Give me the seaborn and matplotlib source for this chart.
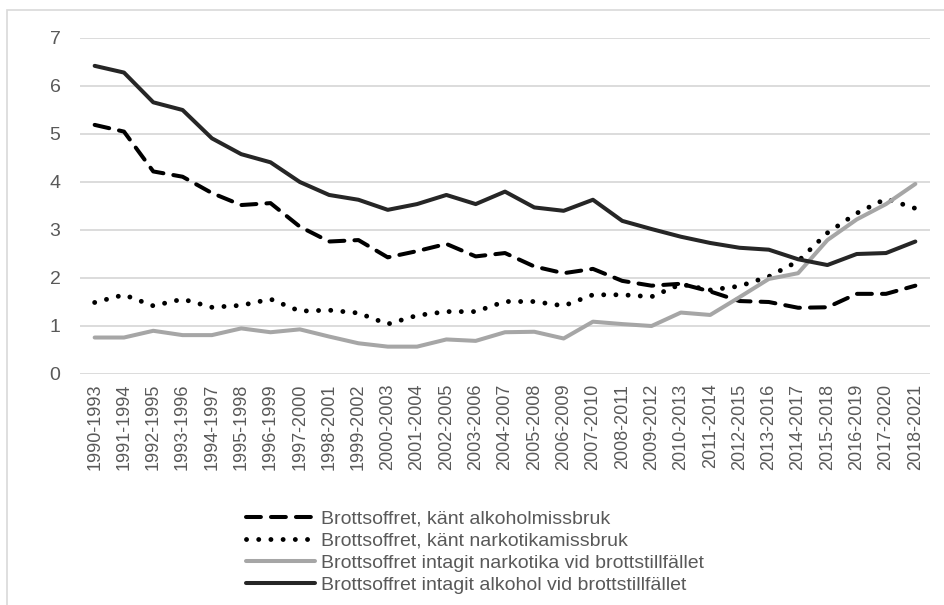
import numpy as np
import matplotlib
matplotlib.use("Agg")
import matplotlib.pyplot as plt
import seaborn as sns
import pandas as pd
from matplotlib.patches import Rectangle

# ==========================================
# Data
# ==========================================
periods = [f"{y}-{y + 3}" for y in range(1990, 2019)]

alkohol_missbruk = [5.19, 5.05, 4.22, 4.11, 3.77, 3.52, 3.56, 3.07, 2.76, 2.79,
                    2.43, 2.56, 2.71, 2.45, 2.52, 2.24, 2.10, 2.19, 1.94, 1.84,
                    1.88, 1.72, 1.52, 1.50, 1.38, 1.39, 1.67, 1.67, 1.84]
narkotika_missbruk = [1.49, 1.65, 1.42, 1.56, 1.39, 1.43, 1.56, 1.31, 1.33, 1.27,
                      1.04, 1.22, 1.30, 1.30, 1.51, 1.51, 1.42, 1.65, 1.65, 1.61,
                      1.87, 1.75, 1.83, 2.03, 2.35, 2.94, 3.35, 3.65, 3.45]
narkotika_intagit = [0.76, 0.76, 0.90, 0.81, 0.81, 0.95, 0.87, 0.93, 0.78, 0.64,
                     0.57, 0.57, 0.72, 0.69, 0.87, 0.88, 0.74, 1.09, 1.04, 1.00,
                     1.28, 1.23, 1.60, 1.98, 2.10, 2.79, 3.22, 3.54, 3.96]
alkohol_intagit = [6.42, 6.28, 5.66, 5.50, 4.91, 4.58, 4.41, 4.00, 3.73, 3.63,
                   3.42, 3.54, 3.73, 3.54, 3.80, 3.47, 3.40, 3.63, 3.19, 3.02,
                   2.86, 2.73, 2.63, 2.59, 2.39, 2.27, 2.50, 2.52, 2.76]

series_names = [
    "Brottsoffret, känt alkoholmissbruk",
    "Brottsoffret, känt narkotikamissbruk",
    "Brottsoffret intagit narkotika vid brottstillfället",
    "Brottsoffret intagit alkohol vid brottstillfället",
]

df = pd.DataFrame({
    "period": periods * 4,
    "value": alkohol_missbruk + narkotika_missbruk + narkotika_intagit + alkohol_intagit,
    "serie": np.repeat(series_names, len(periods)),
})

# ==========================================
# Styling
# ==========================================
sns.set_theme(style="white")
plt.rcParams["font.family"] = ["Liberation Sans", "DejaVu Sans"]
text_color = "#595959"

palette = {
    series_names[0]: "#000000",
    series_names[1]: "#000000",
    series_names[2]: "#a6a6a6",
    series_names[3]: "#262626",
}
dashes = {
    series_names[0]: (3.7, 2.5),
    series_names[1]: (0.01, 2.5),
    series_names[2]: "",
    series_names[3]: "",
}

fig = plt.figure(figsize=(9.44, 6.05), dpi=100)
fig.patches.append(Rectangle((7 / 944, -0.01), 1.0, 1 - 10 / 605 + 0.01,
                             transform=fig.transFigure, fill=False,
                             edgecolor="#d9d9d9", linewidth=1.2))
ax = fig.add_axes([80 / 944, 1 - 374 / 605, 850 / 944, 336 / 605])

sns.lineplot(data=df, x="period", y="value", hue="serie", style="serie",
             palette=palette, dashes=dashes, linewidth=2.9, sort=False,
             dash_capstyle="round", solid_capstyle="round",
             solid_joinstyle="round", legend=False, ax=ax)

# dots a bit fatter than the other lines
ax.get_lines()[1].set_linewidth(3.5)

ax.set_xlim(-0.5, len(periods) - 0.5)
ax.set_ylim(0, 7)
ax.set_yticks(range(0, 8))
ax.yaxis.grid(True, color="#d9d9d9", linewidth=1.3)
ax.set_axisbelow(True)
for s in ax.spines.values():
    s.set_visible(False)
ax.set_xlabel("")
ax.set_ylabel("")
ax.tick_params(axis="y", length=0, pad=14, labelsize=14, labelcolor=text_color)
ax.tick_params(axis="x", length=0, pad=7, labelsize=13, labelcolor=text_color)
plt.setp(ax.get_xticklabels(), rotation=90)

# legend below the plot, in reference order
handles = ax.get_lines()[:4]
fig.legend(handles, series_names, loc="upper left",
           bbox_to_anchor=(238 / 944, 1 - 502 / 605), frameon=False,
           fontsize=14, labelcolor=text_color, handlelength=3.55,
           handletextpad=0.3, labelspacing=0.24, borderaxespad=0)

fig.savefig("out.png", dpi=100)
